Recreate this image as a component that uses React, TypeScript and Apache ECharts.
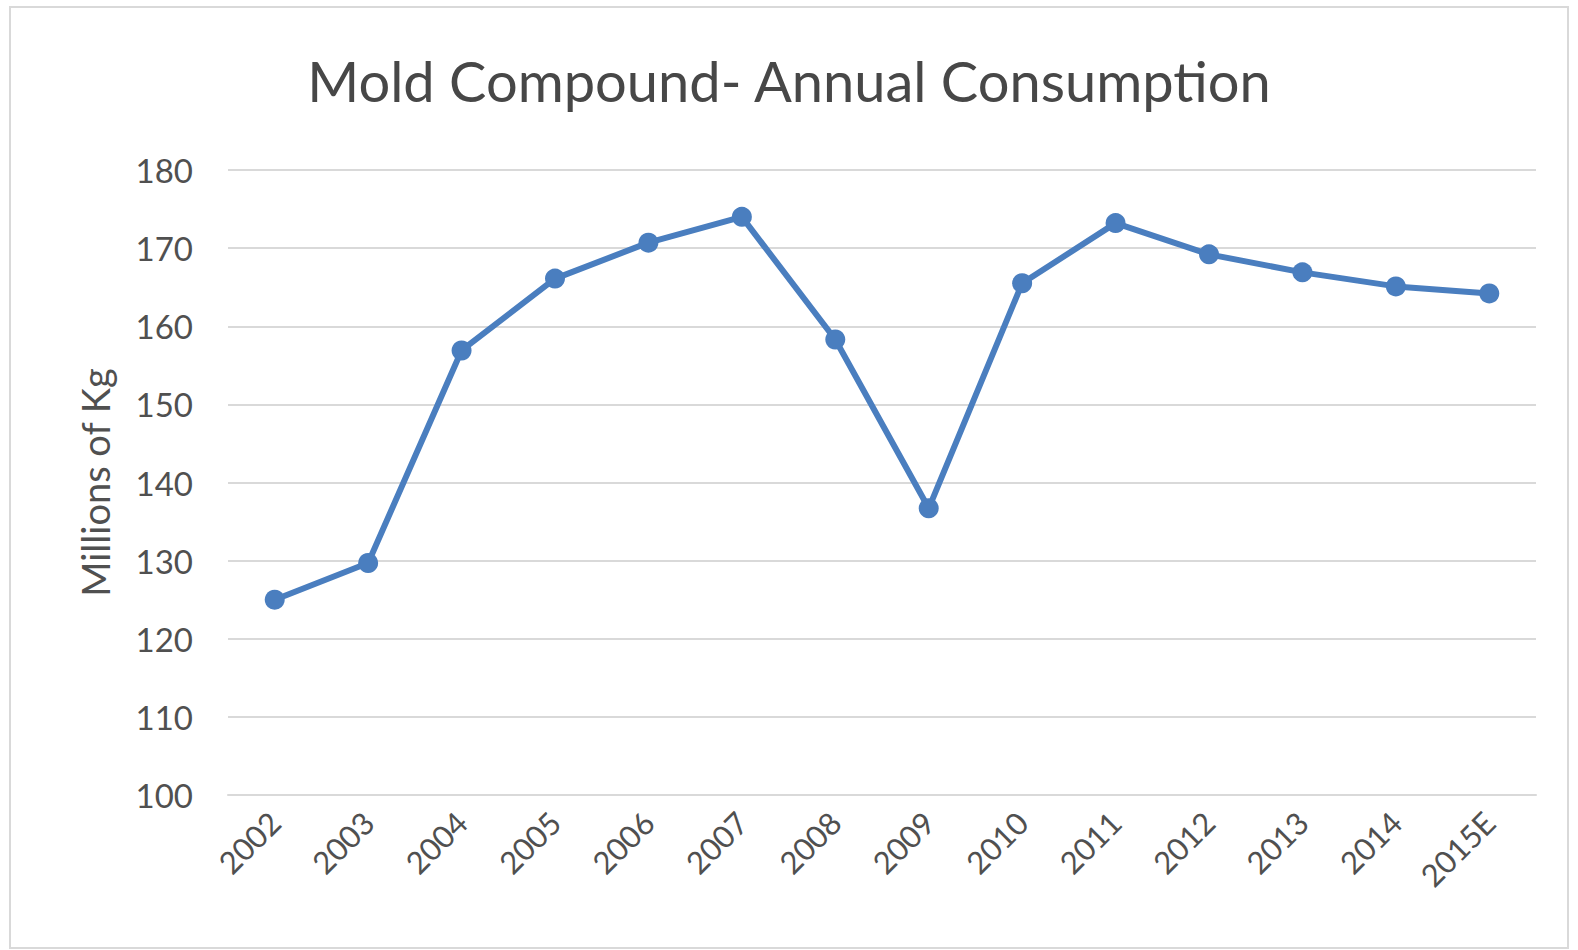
import React, { useEffect, useRef } from "react";
import * as echarts from "echarts";

const titleText = "Mold Compound- Annual Consumption";
const yAxisName = "Millions of Kg";
const categories = ["2002", "2003", "2004", "2005", "2006", "2007", "2008", "2009", "2010", "2011", "2012", "2013", "2014", "2015E"];
const consumption = [125.0, 129.7, 156.9, 166.1, 170.7, 174.0, 158.3, 136.7, 165.5, 173.2, 169.2, 166.9, 165.1, 164.2];
const yMin = 100;
const yMax = 180;
const yInterval = 10;

const FONT = "Lato, 'Open Sans', sans-serif";
const TEXT_COLOR = "#505050";
const TITLE_COLOR = "#474747";
const LINE_COLOR = "#4a7ebf";
const GRID_COLOR = "#d9d9d9";

export default function App() {
  const ref = useRef<HTMLDivElement>(null);
  useEffect(() => {
    if (!ref.current) return;
    const chart = echarts.init(ref.current, undefined, { renderer: "svg" });
    chart.setOption({
      animation: false,
      backgroundColor: "#ffffff",
      title: {
        text: titleText,
        left: "center",
        top: 47,
        textStyle: { fontFamily: FONT, fontSize: 56, fontWeight: "normal", color: TITLE_COLOR },
      },
      graphic: [
        {
          type: "rect",
          shape: { x: 10, y: 7, width: 1558, height: 941 },
          style: { fill: "none", stroke: GRID_COLOR, lineWidth: 2 },
          silent: true,
        },
      ],
      grid: { left: 228, right: 42, top: 170, bottom: 155, containLabel: false },
      xAxis: {
        type: "category",
        data: categories,
        boundaryGap: true,
        axisLine: { show: true, lineStyle: { color: GRID_COLOR, width: 2 } },
        axisTick: { show: false },
        axisLabel: {
          rotate: 45,
          margin: 22,
          fontFamily: FONT,
          fontSize: 31,
          color: TEXT_COLOR,
          interval: 0,
        },
      },
      yAxis: {
        type: "value",
        min: yMin,
        max: yMax,
        interval: yInterval,
        name: yAxisName,
        nameLocation: "middle",
        nameGap: 114,
        nameTextStyle: { fontFamily: FONT, fontSize: 38, color: TEXT_COLOR },
        axisLine: { show: false },
        axisTick: { show: false },
        splitLine: { show: true, lineStyle: { color: GRID_COLOR, width: 2 } },
        axisLabel: { margin: 35, fontFamily: FONT, fontSize: 33, color: TEXT_COLOR },
      },
      series: [
        {
          type: "line",
          data: consumption,
          symbol: "circle",
          symbolSize: 20,
          lineStyle: { color: LINE_COLOR, width: 6 },
          itemStyle: { color: LINE_COLOR },
        },
      ],
    });
    return () => chart.dispose();
  }, []);
  return (
    <div
      ref={ref}
      style={{ position: "fixed", left: 0, top: 0, width: 1578, height: 950 }}
    />
  );
}
